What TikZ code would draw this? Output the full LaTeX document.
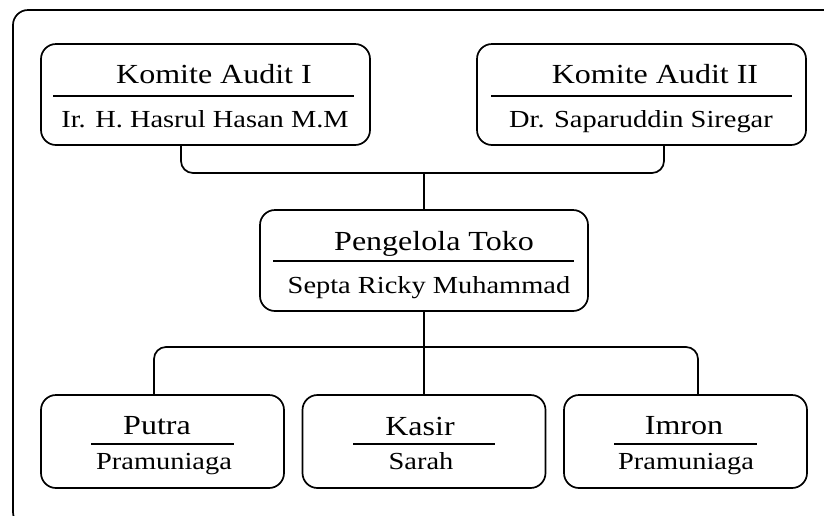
\documentclass[tikz,border=0pt]{standalone}
\usepackage{fontspec}
\setmainfont{Liberation Serif}[FakeStretch=1.16]
\begin{document}
\begin{tikzpicture}[x=1pt,y=-1pt,
  box/.style={draw,line width=1.7pt,rounded corners=15pt,minimum width=#1,inner sep=0pt},
  bigbox/.style={box=329pt,minimum height=101pt},
  smallbox/.style={box=243pt,minimum height=93pt},
  title/.style={anchor=base,inner sep=0pt,font=\fontsize{27.6}{30}\selectfont},
  person/.style={anchor=base,inner sep=0pt,font=\fontsize{24.5}{28}\selectfont},
  sep/.style={line width=1.7pt},
  conn/.style={line width=1.7pt,rounded corners=12pt}]
\useasboundingbox (0,0) rectangle (824,515);
\begin{scope}
\clip (0,0) rectangle (824,515);
\draw[line width=1.7pt,rounded corners=15pt] (13,10) rectangle (839,527);
\end{scope}

% boxes
\node[bigbox] (ka1) at (205.5,94.5) {};
\node[bigbox] (ka2) at (641.5,94.5) {};
\node[box=328pt,minimum height=101pt] (pt) at (424,260.5) {};
\node[smallbox] (putra) at (162.5,441.5) {};
\node[smallbox] (kasir) at (424,441.5) {};
\node[smallbox] (imron) at (685.5,441.5) {};

% texts
\node[title] (ka1t) at (214,83) {Komite Audit I};
\node[person] (ka1n) at (205,127) {Ir. H. Hasrul Hasan M.M};
\draw[sep] (53,96) -- (354,96);
\node[title] (ka2t) at (655,83) {Komite Audit II};
\node[person] (ka2n) at (641,127) {Dr. Saparuddin Siregar};
\draw[sep] (491,96) -- (792,96);
\node[title] (ptt) at (434,250) {Pengelola Toko};
\node[person] (ptn) at (429,293) {Septa Ricky Muhammad};
\draw[sep] (273,261) -- (574,261);
\node[title] (putrat) at (157,434) {Putra};
\node[person] (putran) at (164,469) {Pramuniaga};
\draw[sep] (91,444) -- (234,444);
\node[title] (kasirt) at (420,435) {Kasir};
\node[person] (kasirn) at (421,469) {Sarah};
\draw[sep] (353,444) -- (495,444);
\node[title] (imront) at (684,434) {Imron};
\node[person] (imronn) at (686,469) {Pramuniaga};
\draw[sep] (614,444) -- (757,444);

% connectors
\coordinate (j1) at (424,173);
\coordinate (j2) at (424,347);
\draw[conn] ([xshift=-24.5pt]ka1.south) |- (j1) -| ([xshift=22.5pt]ka2.south);
\draw[conn] (j1) -- (pt.north);
\draw[conn] (pt.south) -- (kasir.north);
\draw[conn] ([xshift=-8.5pt]putra.north) |- (j2) -| ([xshift=12.5pt]imron.north);
\end{tikzpicture}
\end{document}
